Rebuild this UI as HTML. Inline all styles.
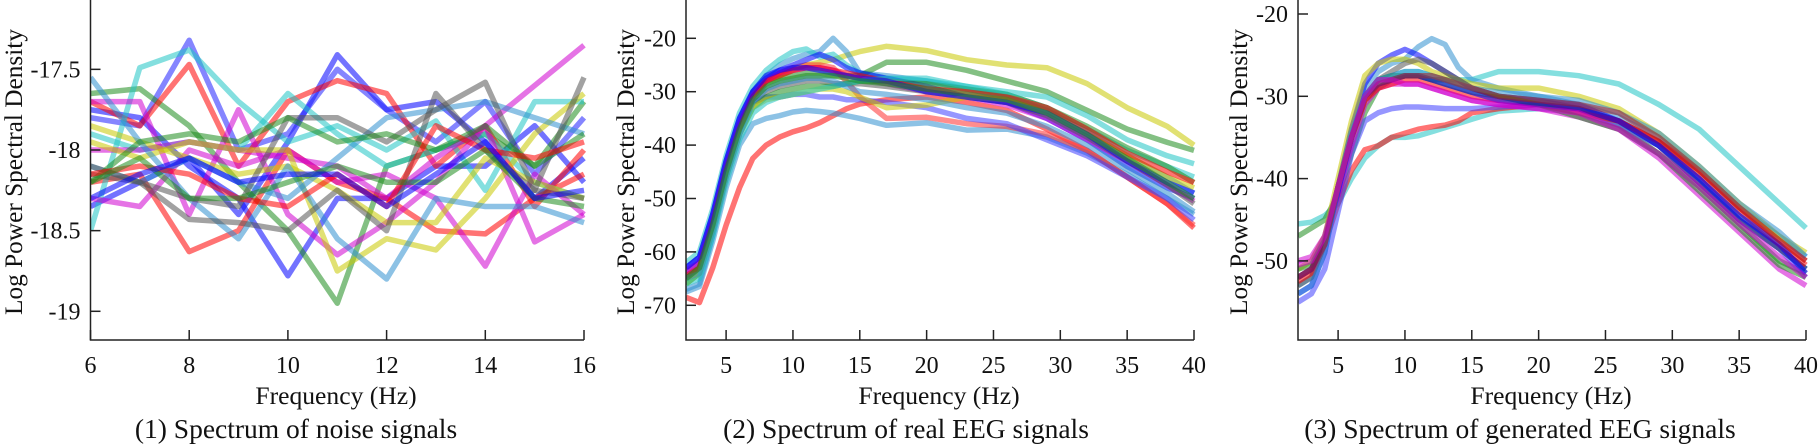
<!DOCTYPE html>
<html><head><meta charset="utf-8"><style>
html,body{margin:0;padding:0;background:#fff;}
svg{display:block;font-family:"Liberation Serif",serif;}
</style></head><body>
<svg id="fig" width="1820" height="446" viewBox="0 0 1820 446" xmlns="http://www.w3.org/2000/svg"></svg>
<script>
// ---- Panel 1 data: noise spectrum ----
const noiseFreq = [6,7,8,9,10,11,12,13,14,15,16];
const noiseSeries = [
 [-18.35,-18.2,-18.05,-18.4,-17.95,-17.41,-17.75,-17.7,-17.95,-18.3,-18.05],
 [-17.8,-17.85,-17.32,-18.0,-17.9,-17.5,-17.75,-17.95,-17.7,-18.15,-17.8],
 [-17.75,-17.8,-18.1,-18.3,-18.78,-18.3,-18.3,-18.1,-18.1,-17.85,-18.2],
 [-17.65,-17.62,-17.85,-18.2,-18.5,-18.95,-18.1,-18.0,-17.9,-18.1,-17.7],
 [-18.2,-18.15,-18.63,-18.5,-18.0,-18.2,-18.3,-18.5,-18.52,-18.3,-18.15],
 [-17.7,-17.85,-17.47,-18.1,-17.7,-17.57,-17.65,-18.1,-17.85,-18.35,-18.0],
 [-18.5,-17.49,-17.38,-17.7,-17.95,-17.85,-18.0,-17.82,-18.25,-17.7,-17.7],
 [-17.9,-18.0,-17.95,-18.0,-17.65,-17.9,-18.1,-18.0,-17.9,-18.2,-18.3],
 [-17.7,-17.7,-18.4,-17.75,-18.4,-18.65,-18.45,-18.2,-17.85,-17.6,-17.35],
 [-18.3,-18.35,-18.0,-18.1,-18.0,-18.2,-18.15,-18.3,-18.72,-18.15,-18.4],
 [-18.0,-18.0,-17.95,-18.0,-18.05,-18.1,-18.3,-18.05,-17.85,-18.57,-18.4],
 [-17.95,-18.05,-17.95,-18.0,-18.0,-18.75,-18.55,-18.62,-18.3,-17.9,-17.65],
 [-17.85,-17.95,-18.05,-18.15,-18.1,-18.25,-18.45,-18.45,-18.05,-18.2,-18.3],
 [-17.55,-17.95,-18.3,-18.55,-18.1,-18.55,-18.8,-18.3,-18.35,-18.35,-18.45],
 [-18.1,-18.2,-18.05,-18.2,-18.3,-18.05,-17.8,-17.75,-17.7,-17.8,-17.9],
 [-18.1,-18.2,-18.43,-18.45,-18.5,-18.25,-18.5,-17.65,-18.0,-18.25,-18.3],
 [-18.15,-18.2,-18.3,-18.35,-17.8,-17.8,-17.95,-17.75,-17.58,-18.25,-17.55],
 [-18.2,-17.95,-17.9,-17.95,-17.8,-17.95,-17.9,-18.0,-17.85,-18.1,-17.9],
 [-18.15,-18.1,-18.15,-18.3,-18.35,-18.15,-18.35,-17.85,-18.0,-18.05,-17.95],
 [-18.2,-18.05,-18.3,-18.3,-18.2,-18.1,-18.2,-18.2,-18.0,-18.3,-18.35],
 [-18.3,-18.15,-18.05,-18.2,-18.15,-18.15,-18.35,-18.15,-17.95,-18.3,-18.25]
];
const noiseColors = ["#0000ff","#2020ff","#0000ff","#1e8c1e","#ff0000","#ff0000","#1fc4c4","#1fc4c4","#d000d0","#d000d0","#d000d0","#c8c800","#c8c800","#2f8fd0","#2f8fd0","#555555","#555555","#1e8c1e","#ff0000","#1e8c1e","#0000ff"];
const noiseYTicks = [-17.5,-18,-18.5,-19];
const noiseYTickLabels = ["-17.5","-18","-18.5","-19"];
const noiseXTicks = [6,8,10,12,14,16];

// ---- Panels 2/3 shared frequency grid ----
const eegFreq = [2,3,4,5,6,7,8,9,10,11,12,13,14,15,17,20,23,26,29,32,35,38,40];
const realSeries = [
 [-68.5,-69.5,-63,-55,-48,-42.5,-40,-38.5,-37.5,-36.8,-35.8,-34.5,-33.2,-32.3,-31.5,-31,-32,-33.5,-37,-41,-46,-51,-55.5],
 [-66,-64,-55,-45,-37,-31,-28,-27,-26,-25,-24.5,-24,-23.2,-22.5,-21.5,-22.3,-24,-25,-25.5,-28.5,-33,-36.5,-40],
 [-67,-66,-57,-46,-37,-30,-27,-25,-23.8,-23,-22.5,-20,-22.5,-26.5,-27,-28,-29.5,-31,-33.5,-37.5,-42,-46,-49],
 [-67.5,-66.5,-58,-48,-40,-36,-35,-34.5,-33.8,-33.5,-33.7,-34,-34.5,-35,-36.3,-35.8,-37.2,-37,-38.5,-41.5,-45.5,-50,-53],
 [-62,-60,-52,-42,-34,-29,-26,-24,-22.5,-22,-23.5,-23,-25,-26.5,-27.5,-28,-29,-30.5,-33,-37,-41,-44,-46],
 [-65,-63,-55,-45,-37,-31,-28.5,-27.5,-27,-26.5,-26.5,-27,-27,-27,-24.5,-24.5,-26,-28,-30,-33.5,-37,-39.5,-41],
 [-64,-62,-54,-44,-36,-31,-28,-26.5,-25.5,-25,-25,-25.5,-28,-31,-35,-34.8,-36,-36.5,-38,-41,-46,-51,-55],
 [-63,-61,-53,-43,-35,-30,-27.5,-26,-25,-24,-23,-24,-25.5,-26.5,-27.5,-29,-31,-32,-35,-39,-44,-48,-50],
 [-64,-62,-54,-44,-36,-32,-31,-31,-30.5,-30.5,-31,-31,-31.5,-31.5,-32,-33,-35,-36,-39,-42,-46,-50,-54],
 [-63.5,-62,-54,-44,-36,-30.5,-28,-26.5,-26,-25.5,-25.5,-26,-27,-27.5,-28.5,-30,-31,-32.5,-35,-39,-43,-47.5,-50.5],
 [-65,-63,-55,-45,-37,-32,-30,-29,-28.5,-28,-28,-28.5,-28.5,-28.5,-29,-30,-31,-32,-34.5,-38.5,-43,-47.5,-51],
 [-66,-64,-56,-46,-38,-33,-31,-30,-29.5,-29,-29,-29,-28.5,-28,-28,-28.5,-29.5,-30.5,-33,-36.5,-40.5,-44,-47],
 [-66,-64,-56,-46,-38,-33,-31.5,-31,-30.5,-30,-29.5,-29.5,-30,-31,-33,-32.5,-31,-31.5,-34,-38,-42,-46,-48],
 [-64.5,-63,-55,-45,-37,-31,-28,-27,-26,-25.5,-25.5,-26,-26.5,-27,-28,-29.5,-30,-31,-33,-37,-41.5,-45,-47],
 [-66,-65,-57,-47,-39,-34,-32,-31,-30.5,-30,-29.5,-29,-28.5,-28,-27.5,-27.5,-29,-30,-31,-34.5,-39,-42,-43.5],
 [-65,-64,-56,-46,-38,-32,-29.5,-28.5,-28,-27.5,-27.5,-28,-29,-30,-30.5,-31.5,-33,-34,-36.5,-40,-44.5,-49,-52.5],
 [-63,-61,-53,-43,-35,-30,-27,-26,-25.5,-25.5,-26,-26.5,-27,-27.5,-28,-30,-31,-32,-34,-38,-43,-47,-49],
 [-65,-63,-55,-45,-37,-31.5,-29,-28,-27.5,-27,-27,-27,-27.5,-28,-28.5,-29.5,-30.5,-31.5,-34,-38,-42.5,-47,-50]
];
const realColors = ["#ff0000","#c8c800","#2f8fd0","#2f8fd0","#1fc4c4","#1e8c1e","#ff3030","#0000ff","#4040ff","#d000d0","#555555","#1e8c1e","#c8c800","#ff0000","#1fc4c4","#2f8fd0","#0000ff","#1e8c1e"];
const genSeries = [
 [-45.5,-45.3,-44.5,-43,-40,-37.5,-36,-35,-35,-34.8,-34.3,-33.8,-33.3,-32.8,-31.8,-31.5,-31.5,-33,-35.5,-40,-44.5,-48.5,-51],
 [-52,-51,-47,-41,-35,-30,-28,-27.5,-27,-27,-27.5,-28,-28,-28,-27,-27,-27.5,-28.5,-31,-34,-38.5,-43,-46],
 [-47,-46,-45,-42,-37,-32,-29,-28,-27.5,-27.5,-28,-28,-28.5,-29,-30,-30.5,-31.5,-33.5,-37,-41,-45.5,-50,-51.5],
 [-53,-52,-48,-41,-34,-29,-27,-26,-25.5,-24,-23,-23.7,-26.5,-28,-29,-30,-31,-32.5,-35,-39,-43.5,-47,-49.5],
 [-52,-51,-48,-43,-39,-36.5,-36,-35,-34.5,-34,-33.7,-33.5,-33,-32,-31.5,-31,-31.5,-33,-35.5,-39,-43.5,-47.5,-50],
 [-54,-53,-49,-41,-34,-28.5,-26,-25,-24.3,-25,-26,-27,-28,-29,-30,-30.5,-31,-33,-36,-40.5,-45,-48.5,-51],
 [-55,-54,-51,-44,-37,-33,-32,-31.5,-31.3,-31.3,-31.4,-31.5,-31.5,-31.5,-31.3,-31,-32,-33.5,-36,-40,-45,-48.5,-52],
 [-50,-49.5,-47,-42,-36,-31,-29,-28.5,-28.5,-28.5,-29,-29.5,-30,-30.5,-31,-31.5,-32.5,-34,-37.5,-42,-46.5,-51,-53],
 [-51,-50,-47,-40,-33,-27.5,-26,-25.5,-25.5,-26,-27,-27.5,-28,-28.5,-29,-29,-30,-31.5,-34.5,-38.5,-43,-47,-49],
 [-53,-52,-48,-41,-35,-30,-28,-27,-26,-25.5,-26,-27,-28,-29,-30,-31,-31.5,-33,-36,-40.5,-45,-48.5,-51],
 [-52.5,-51.5,-48,-41,-35,-30.5,-29,-28.5,-28,-28,-28.5,-29,-29.5,-30,-30.5,-31,-32,-33,-35.5,-39.5,-44,-48,-50.5],
 [-51,-50.5,-47.5,-41,-35,-30,-28,-27.5,-27.5,-27.5,-28,-28.5,-29,-29.5,-30,-31,-32.5,-34,-37,-41.5,-46,-50.5,-52],
 [-52,-51,-48,-41.5,-35,-30,-28.5,-28,-27.5,-27.5,-28,-28.5,-29,-29.5,-30.5,-31,-31.5,-33,-36,-40,-44.5,-48,-51.5],
 [-54,-53,-49,-41,-34.5,-30,-28,-27.5,-27,-27,-27.5,-28,-28.5,-29,-29.5,-30,-30.5,-32,-34.5,-38.5,-43,-46.5,-49.5],
 [-52,-51,-48,-41,-35,-30.5,-28.5,-28,-27.5,-27.5,-27.5,-28,-28.5,-29,-30,-30.5,-31,-32,-35,-39,-43.5,-47.5,-50],
 [-50.5,-50,-47,-41,-35,-30,-28,-28,-28.5,-28.5,-29,-29.5,-30,-30.5,-31,-31.5,-32,-34,-37,-41,-45.5,-49.5,-52]
];
const genColors = ["#1fc4c4","#1fc4c4","#1e8c1e","#2f8fd0","#ff0000","#0000ff","#4040ff","#d000d0","#c8c800","#555555","#ff0000","#1e8c1e","#0000ff","#2f8fd0","#b02020","#d000d0"];
const eegXTicks = [5,10,15,20,25,30,35,40];
const realYTicks = [-20,-30,-40,-50,-60,-70];
const genYTicks = [-20,-30,-40,-50];

const NS="http://www.w3.org/2000/svg";
const svg=document.getElementById('fig');
function mk(tag,attrs,parent){const e=document.createElementNS(NS,tag);for(const k in attrs)e.setAttribute(k,attrs[k]);(parent||svg).appendChild(e);return e;}
function txt(parent,x,y,size,anchor,str,name,rot){
 const a={x:x,y:y,'text-anchor':anchor,'font-size':size,fill:'#111'};
 if(rot){a.x=0;a.y=0;a.transform=`translate(${x},${y}) rotate(-90)`;}
 const t=mk('text',a,parent);
 t.textContent=str;
 
 
 return t;
}

const panels=[
 {id:'noise',x0:90.5,x1:584,xmin:6,xmax:16,yRef:-18,yPix:150,ppu:161.3,freq:noiseFreq,series:noiseSeries,colors:noiseColors,yt:noiseYTicks,ytl:noiseYTickLabels,xt:noiseXTicks,ylx:12,xlx:336,cap:"(1) Spectrum of noise signals",capx:296},
 {id:'real',x0:686,x1:1194,xmin:2,xmax:40,yRef:-20,yPix:38.3,ppu:5.34,freq:eegFreq,series:realSeries,colors:realColors,yt:realYTicks,ytl:realYTicks.map(String),xt:eegXTicks,ylx:624,xlx:939,cap:"(2) Spectrum of real EEG signals",capx:906},
 {id:'generated',x0:1298,x1:1806,xmin:2,xmax:40,yRef:-20,yPix:14,ppu:8.23,freq:eegFreq,series:genSeries,colors:genColors,yt:genYTicks,ytl:genYTicks.map(String),xt:eegXTicks,ylx:1237,xlx:1551,cap:"(3) Spectrum of generated EEG signals",capx:1520}
];
const BOTTOM=340, TOP=0;
panels.forEach(p=>{
 const g=mk('g',{});
 
 
 const xs=v=>p.x0+(v-p.xmin)/(p.xmax-p.xmin)*(p.x1-p.x0);
 const ys=v=>p.yPix-(v-p.yRef)*p.ppu;
 const cid='clip-'+p.id;
 const cp=mk('clipPath',{id:cid},g);
 mk('rect',{x:p.x0,y:TOP,width:p.x1-p.x0+4,height:BOTTOM-TOP},cp);
 const lg=mk('g',{'clip-path':'url(#'+cid+')'},g);
 
 
 p.series.forEach((s,i)=>{
  const d=s.map((v,j)=>(j?'L':'M')+xs(p.freq[j]).toFixed(1)+','+ys(v).toFixed(1)).join(' ');
  const path=mk('path',{d:d,fill:'none',stroke:p.colors[i%p.colors.length],'stroke-opacity':0.55,'stroke-width':5.5,'stroke-linejoin':'round'},lg);
  
  
 });
 const ax=mk('path',{d:`M${p.x0},${TOP} L${p.x0},${BOTTOM} L${p.x1},${BOTTOM}`,fill:'none',stroke:'#222','stroke-width':1.5},g);
 
 
 p.yt.forEach((v,i)=>{
  const y=ys(v);
  mk('line',{x1:p.x0,x2:p.x0+10,y1:y,y2:y,stroke:'#222','stroke-width':1.5},g);
  txt(g,p.x0-10,y+8,24,'end',p.ytl[i],p.id+'-y-tick-label');
 });
 p.xt.forEach(v=>{
  const x=xs(v);
  mk('line',{x1:x,x2:x,y1:BOTTOM,y2:BOTTOM-10,stroke:'#222','stroke-width':1.5},g);
  txt(g,x,373,24,'middle',String(v),p.id+'-x-tick-label');
 });
 txt(g,p.ylx+10,172,25.3,'middle','Log Power Spectral Density',p.id+'-y-axis-title',true);
 txt(g,p.xlx,404,25.6,'middle','Frequency (Hz)',p.id+'-x-axis-title');
 txt(g,p.capx,438,27.5,'middle',p.cap,p.id+'-caption');
});
</script>
</body></html>
